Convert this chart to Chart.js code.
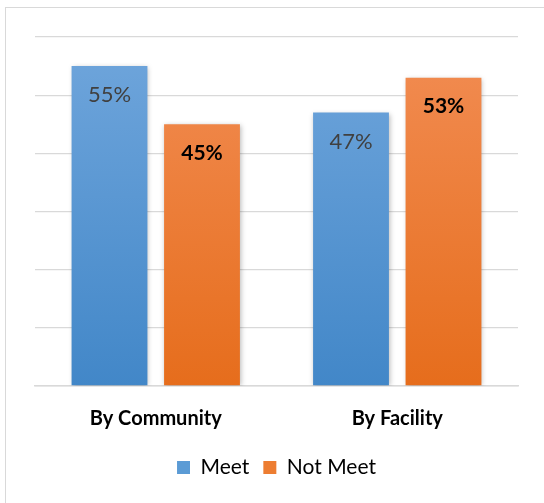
<!DOCTYPE html>
<html>
<head>
<meta charset="utf-8">
<script src="https://cdn.jsdelivr.net/npm/chart.js@4.4.1/dist/chart.umd.min.js"></script>
<style>
  html, body { margin: 0; padding: 0; background: #fff; overflow: hidden; }
  #frame { position: absolute; left: 5px; top: 7px; width: 600px; height: 600px; border: 1px solid #d9d9d9; }
  #wrap { position: absolute; left: 0; top: 0; width: 544px; height: 503px; }
</style>
</head>
<body>
<div id="frame"></div>
<div id="wrap"><canvas id="chart"></canvas></div>
<script>
var categories = ["By Community", "By Facility"];
var meet = [0.55, 0.47];
var notMeet = [0.45, 0.53];
var seriesNames = ["Meet", "Not Meet"];

function fillFor(top, bottom) {
  return function(c) {
    var area = c.chart.chartArea;
    if (!area) return bottom;
    var g = c.chart.ctx.createLinearGradient(0, area.top, 0, area.bottom);
    g.addColorStop(0, top);
    g.addColorStop(1, bottom);
    return g;
  };
}

// soft drop shadow under the bars
var barShadow = {
  id: 'barShadow',
  beforeDatasetsDraw: function(chart) {
    var ctx = chart.ctx;
    ctx.save();
    ctx.shadowColor = 'rgba(0,0,0,0.28)';
    ctx.shadowBlur = 5;
    ctx.shadowOffsetX = 1;
    ctx.shadowOffsetY = 1;
  },
  afterDatasetsDraw: function(chart) {
    chart.ctx.restore();
  }
};

// percentage labels inside the top of each bar
var barLabels = {
  id: 'barLabels',
  afterDatasetsDraw: function(chart) {
    var ctx = chart.ctx;
    ctx.save();
    ctx.textAlign = 'center';
    ctx.textBaseline = 'middle';
    chart.data.datasets.forEach(function(ds, i) {
      chart.getDatasetMeta(i).data.forEach(function(bar, j) {
        var txt = Math.round(ds.data[j] * 100) + '%';
        if (i === 0) {
          ctx.font = '22px Lato';
          ctx.fillStyle = '#404040';
        } else {
          ctx.font = 'bold 21px Lato';
          ctx.fillStyle = '#000000';
        }
        ctx.fillText(txt, bar.x, bar.y + 29);
      });
    });
    ctx.restore();
  }
};

var ctx = document.getElementById("chart");
var barChart = new Chart(ctx, {
  type: 'bar',
  data: {
    labels: categories,
    datasets: [
      {
        label: seriesNames[0],
        data: meet,
        backgroundColor: fillFor('#70a6dc', '#4287c8'),
        categoryPercentage: 0.766,
        barPercentage: 0.82
      },
      {
        label: seriesNames[1],
        data: notMeet,
        backgroundColor: fillFor('#f28d54', '#e66d1c'),
        categoryPercentage: 0.766,
        barPercentage: 0.82
      }
    ]
  },
  options: {
    responsive: true,
    maintainAspectRatio: false,
    animation: false,
    layout: { padding: { top: 37, left: 35, right: 26, bottom: 15 } },
    scales: {
      x: {
        grid: { display: false },
        border: { color: '#d9d9d9', width: 1.5 },
        ticks: { color: '#000', font: { family: 'Lato', size: 20, weight: 'bold' }, padding: 13 },
        afterFit: function(s) { s.height = 57; }
      },
      y: {
        min: 0,
        max: 0.6,
        ticks: { display: false, stepSize: 0.1 },
        grid: { color: '#d9d9d9', lineWidth: 1.3, drawTicks: false },
        border: { display: false },
        afterFit: function(s) { s.width = 0; }
      }
    },
    plugins: {
      legend: {
        position: 'bottom',
        labels: {
          color: '#000',
          font: { family: 'Lato', size: 21 },
          boxWidth: 13,
          boxHeight: 13,
          padding: 14,
          generateLabels: function(chart) {
            var cols = ['#5b9bd5', '#ed7d31'];
            return chart.data.datasets.map(function(ds, i) {
              return { text: ds.label, fillStyle: cols[i], strokeStyle: cols[i], lineWidth: 0, datasetIndex: i };
            });
          }
        }
      },
      tooltip: { enabled: false }
    }
  },
  plugins: [barShadow, barLabels]
});
</script>
</body>
</html>
